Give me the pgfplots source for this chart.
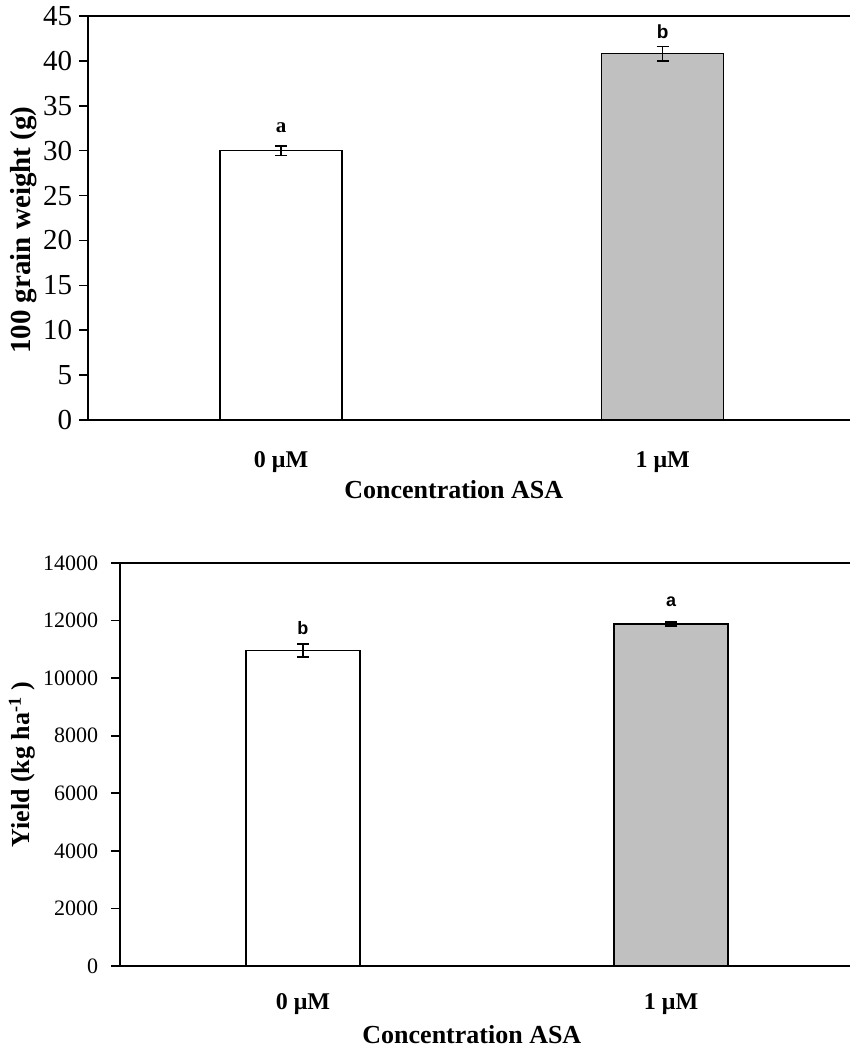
\documentclass[border=0pt]{standalone}
\usepackage{fontspec}
\setmainfont{Liberation Serif}
\newfontfamily\arialfont{Liberation Sans}
\usepackage{pgfplots}
\pgfplotsset{compat=1.18}
\definecolor{barsilver}{RGB}{192,192,192}
\pgfplotsset{
  common/.style={
    scale only axis, anchor=south west,
    ybar, ymin=0,
    separate axis lines,
    axis x line*=bottom, axis y line*=left,
    axis line style={line width=1pt, black},
    tick align=outside,
    xtick={0,1}, xticklabels={0 μM, 1 μM},
    major x tick style={draw=none},
    major y tick style={line width=0.8pt, black},
    scaled y ticks=false,
    /pgf/number format/assume math mode=true,
    /pgf/number format/1000 sep={},
    xlabel={Concentration ASA},
    error bars/y dir=both, error bars/y explicit,
    error bars/error bar style={line width=0.8pt, black},
    error bars/error mark options={rotate=90, mark size=3pt, line width=0.8pt, black},
    clip=false,
  }
}
\begin{document}
\begin{tikzpicture}[x=1pt,y=1pt]
\useasboundingbox (0,0) rectangle (425,525);
% ---------- top chart ----------
\begin{axis}[common,
  at={(44pt,315pt)}, width=381pt, height=202pt,
  xmin=-0.506, xmax=1.491, ymax=45,
  ytick={0,5,...,45},
  bar width=0.32,
  yticklabel style={font=\fontsize{14.5}{15}\selectfont, anchor=east, inner sep=0pt, xshift=-3.5pt},
  xticklabel style={font=\fontsize{12}{13}\selectfont\bfseries, anchor=center, yshift=-17pt},
  xlabel style={font=\fontsize{13}{14}\selectfont\bfseries, at={(axis description cs:0.48,-0.173)}, anchor=center},
  ylabel={100 grain weight (g)},
  ylabel style={font=\fontsize{14.5}{15}\selectfont\bfseries, at={(axis description cs:-0.085,0.47)}, anchor=center},
]
\addplot[bar shift=0pt, fill=white, draw=black, line width=0.75pt] coordinates {(0,30.0) +- (0,0.55)};
\addplot[bar shift=0pt, fill=barsilver, draw=black, line width=0.75pt] coordinates {(1,40.8) +- (0,0.8)};
\draw[line width=1pt] (rel axis cs:0,1) -- (rel axis cs:1,1);
\node[font=\fontsize{10.5}{11}\selectfont\bfseries] at (axis cs:0,32.6) {a};
\node[font=\arialfont\fontsize{9.5}{10}\selectfont\bfseries] at (axis cs:1,43.3) {b};
\end{axis}
% ---------- bottom chart ----------
\begin{axis}[common,
  at={(60pt,42pt)}, width=365pt, height=201.5pt,
  xmin=-0.497, xmax=1.486, ymax=14000,
  ytick={0,2000,...,14000},
  bar width=0.31,
  yticklabel style={font=\fontsize{11}{12}\selectfont, anchor=east, inner sep=0pt, xshift=-6.5pt},
  xticklabel style={font=\fontsize{12}{13}\selectfont\bfseries, anchor=center, yshift=-15pt},
  xlabel style={font=\fontsize{13}{14}\selectfont\bfseries, at={(axis description cs:0.482,-0.171)}, anchor=center},
  ylabel={Yield (kg ha\textsuperscript{-1} )},
  ylabel style={font=\fontsize{13}{14}\selectfont\bfseries, at={(axis description cs:-0.134,0.5)}, anchor=center},
]
\addplot[bar shift=0pt, fill=white, draw=black, line width=0.75pt] coordinates {(0,10960) +- (0,230)};
\addplot[bar shift=0pt, fill=barsilver, draw=black, line width=0.75pt] coordinates {(1,11877) +- (0,70)};
\draw[line width=1pt] (rel axis cs:0,1) -- (rel axis cs:1,1);
\node[font=\arialfont\fontsize{9}{10}\selectfont\bfseries] at (axis cs:0,11750) {b};
\node[font=\arialfont\fontsize{9}{10}\selectfont\bfseries] at (axis cs:1,12650) {a};
\end{axis}
\end{tikzpicture}
\end{document}
